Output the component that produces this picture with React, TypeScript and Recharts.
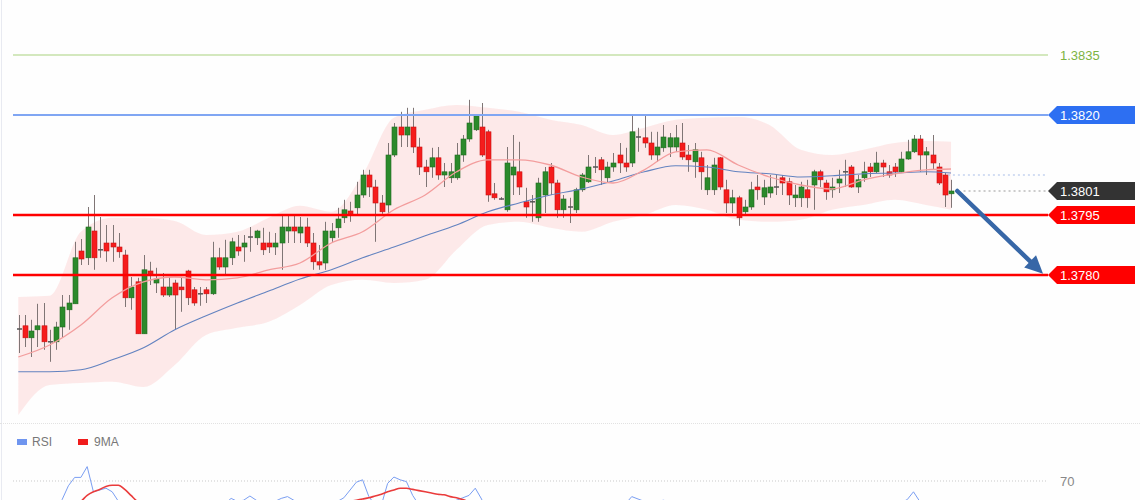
import React from "react";
import { ComposedChart, XAxis, YAxis, Bar, Area, Line, ReferenceLine, Legend } from "recharts";

// candles (price)
const open = [
  1.37663, 1.37673, 1.37643, 1.37663, 1.37673, 1.37633, 1.37633, 1.3767, 1.37713, 1.37728,
  1.3786, 1.37843, 1.3791, 1.3786, 1.3788, 1.3788, 1.3787, 1.3785, 1.37743, 1.37783,
  1.37653, 1.3781, 1.3778, 1.3777, 1.3775, 1.3778, 1.3777, 1.3781, 1.37763, 1.3775,
  1.37763, 1.37753, 1.37843, 1.3782, 1.37843, 1.3787, 1.3787, 1.37893, 1.37893, 1.3788,
  1.3788, 1.3787, 1.3788, 1.3791, 1.3792, 1.37905, 1.3792, 1.3788, 1.37833, 1.3783,
  1.37893, 1.37918, 1.37943, 1.3796, 1.37968, 1.38, 1.3805, 1.3802, 1.3798, 1.37975,
  1.381, 1.3817, 1.3815, 1.3817, 1.3812, 1.3807, 1.3807, 1.38093, 1.3805, 1.38043,
  1.38043, 1.381, 1.3814, 1.38163, 1.3817, 1.38158, 1.38003, 1.3799, 1.37963, 1.3805,
  1.38058, 1.37983, 1.37983, 1.37943, 1.38, 1.3807, 1.3803, 1.37963, 1.3797, 1.37963,
  1.38013, 1.38033, 1.3807, 1.38088, 1.38043, 1.3807, 1.381, 1.3808, 1.3808, 1.38145,
  1.38143, 1.3813, 1.381, 1.38118, 1.3812, 1.3812, 1.3813, 1.381, 1.38083, 1.38093,
  1.38013, 1.38013, 1.38093, 1.38013, 1.3798, 1.37993, 1.37958, 1.3797, 1.3802, 1.37995,
  1.38005, 1.3802, 1.38043, 1.38033, 1.37993, 1.37993, 1.38013, 1.38025, 1.38058, 1.3803,
  1.38013, 1.3803, 1.38058, 1.3807, 1.3802, 1.38043, 1.3807, 1.38058, 1.3808, 1.38058,
  1.3807, 1.38058, 1.3809, 1.38108, 1.3814, 1.381, 1.381, 1.3807, 1.3805, 1.38003,
];
const high = [
  1.377, 1.377, 1.37688, 1.37728, 1.3773, 1.37663, 1.37683, 1.3775, 1.3775, 1.37883,
  1.3789, 1.3797, 1.38, 1.37945, 1.37925, 1.37925, 1.37905, 1.37863, 1.37795, 1.37793,
  1.3785, 1.37833, 1.37818, 1.37805, 1.37795, 1.37788, 1.37793, 1.37813, 1.3777, 1.3777,
  1.3777, 1.37883, 1.37868, 1.37888, 1.37893, 1.379, 1.379, 1.3792, 1.37913, 1.37918,
  1.37908, 1.37905, 1.37948, 1.3795, 1.3795, 1.37945, 1.37943, 1.37905, 1.37875, 1.37933,
  1.3793, 1.37968, 1.37988, 1.37983, 1.38033, 1.38063, 1.38063, 1.38038, 1.38, 1.3813,
  1.3818, 1.38208, 1.38218, 1.38218, 1.38143, 1.38088, 1.38118, 1.3812, 1.3808, 1.3808,
  1.3813, 1.3815, 1.38238, 1.382, 1.3823, 1.38163, 1.3803, 1.37995, 1.3812, 1.3815,
  1.38133, 1.38018, 1.38, 1.38043, 1.3807, 1.3808, 1.38038, 1.38, 1.37993, 1.38018,
  1.38055, 1.381, 1.38095, 1.38095, 1.38083, 1.38105, 1.3813, 1.38118, 1.382, 1.38168,
  1.382, 1.38158, 1.38158, 1.38175, 1.38155, 1.38175, 1.3818, 1.38125, 1.3813, 1.38108,
  1.38075, 1.38093, 1.38095, 1.38038, 1.38013, 1.37998, 1.37988, 1.38033, 1.3805, 1.38038,
  1.3805, 1.3805, 1.3805, 1.38043, 1.38025, 1.38033, 1.38038, 1.38063, 1.38063, 1.38038,
  1.38043, 1.38063, 1.38088, 1.38075, 1.3805, 1.38083, 1.3808, 1.38108, 1.38088, 1.38075,
  1.3808, 1.38108, 1.38138, 1.3815, 1.3815, 1.3812, 1.3815, 1.3808, 1.38055, 1.38038,
];
const low = [
  1.37605, 1.3762, 1.37595, 1.3762, 1.37613, 1.37583, 1.37613, 1.37645, 1.37663, 1.37728,
  1.37825, 1.37825, 1.37813, 1.37843, 1.37833, 1.37833, 1.37843, 1.3772, 1.37713, 1.37653,
  1.37653, 1.37775, 1.37755, 1.37745, 1.37745, 1.37663, 1.37708, 1.37725, 1.37723, 1.37723,
  1.3773, 1.3775, 1.37813, 1.378, 1.37825, 1.37848, 1.37833, 1.37858, 1.37875, 1.3785,
  1.37855, 1.3785, 1.37813, 1.3788, 1.3788, 1.3788, 1.3787, 1.37813, 1.37813, 1.37813,
  1.37883, 1.37893, 1.3793, 1.37933, 1.3795, 1.37993, 1.37995, 1.37883, 1.37953, 1.37955,
  1.38095, 1.3812, 1.3812, 1.38105, 1.3805, 1.3802, 1.38043, 1.38038, 1.3802, 1.3803,
  1.38038, 1.38083, 1.38133, 1.3816, 1.38095, 1.37983, 1.37988, 1.37988, 1.37958, 1.38,
  1.38, 1.37943, 1.37933, 1.37933, 1.37955, 1.38, 1.37943, 1.37943, 1.3793, 1.37955,
  1.38008, 1.3803, 1.38055, 1.38025, 1.3803, 1.38058, 1.38055, 1.38058, 1.3807, 1.38108,
  1.38118, 1.38088, 1.38083, 1.38108, 1.38095, 1.38108, 1.38088, 1.38058, 1.38043, 1.38013,
  1.38, 1.38, 1.38013, 1.37955, 1.37955, 1.37923, 1.3795, 1.37963, 1.37988, 1.37975,
  1.37993, 1.38, 1.38, 1.37975, 1.3797, 1.3797, 1.37968, 1.37963, 1.3802, 1.37988,
  1.37993, 1.38005, 1.3802, 1.38018, 1.38005, 1.38033, 1.38045, 1.38055, 1.38045, 1.38043,
  1.38045, 1.38055, 1.38088, 1.38105, 1.38058, 1.3805, 1.38063, 1.38025, 1.3797, 1.37968,
];
const close = [
  1.37665, 1.37643, 1.3766, 1.37673, 1.37633, 1.37633, 1.3767, 1.3772, 1.3773, 1.37843,
  1.3784, 1.3792, 1.37843, 1.37863, 1.3786, 1.3787, 1.37858, 1.37743, 1.3777, 1.37653,
  1.37813, 1.37803, 1.3779, 1.3775, 1.3777, 1.3775, 1.37763, 1.37743, 1.3773, 1.37753,
  1.37753, 1.37843, 1.3782, 1.37843, 1.37883, 1.3786, 1.3788, 1.37895, 1.3791, 1.37863,
  1.3787, 1.3788, 1.3792, 1.3792, 1.3791, 1.3792, 1.3788, 1.37833, 1.37825, 1.3791,
  1.3791, 1.3794, 1.37963, 1.37953, 1.38, 1.3805, 1.3802, 1.3798, 1.37958, 1.381,
  1.3817, 1.3815, 1.3817, 1.3812, 1.3807, 1.38058, 1.38093, 1.3805, 1.38058, 1.38058,
  1.381, 1.3814, 1.3818, 1.38198, 1.381, 1.38, 1.37993, 1.3799, 1.3808, 1.3807,
  1.3802, 1.3797, 1.37983, 1.3803, 1.38058, 1.3803, 1.37963, 1.3799, 1.3797, 1.38013,
  1.3805, 1.3807, 1.3807, 1.38063, 1.3807, 1.3808, 1.3808, 1.3807, 1.38158, 1.38143,
  1.3813, 1.381, 1.3812, 1.38145, 1.38143, 1.38143, 1.38095, 1.38088, 1.38113, 1.38058,
  1.38043, 1.38075, 1.3802, 1.3798, 1.37993, 1.37943, 1.3797, 1.38013, 1.38013, 1.38018,
  1.3802, 1.3802, 1.3803, 1.38, 1.38, 1.3802, 1.37993, 1.38058, 1.38038, 1.38008,
  1.3802, 1.3804, 1.38058, 1.3802, 1.38038, 1.38058, 1.38058, 1.3808, 1.3807, 1.3805,
  1.38058, 1.3809, 1.38108, 1.3814, 1.381, 1.38108, 1.3808, 1.3803, 1.38, 1.3801,
];

// bollinger band and moving averages, read at every 5th candle
const bandIndex = [0, 5, 10, 15, 20, 25, 30, 35, 40, 45, 50, 55, 60, 65, 70, 75, 80, 85, 90, 95, 100, 105, 110, 115, 120, 125, 130, 135, 140, 145, 149];
const bandUpper = [
  1.37745, 1.37748, 1.37908, 1.37943, 1.37943, 1.37935, 1.379, 1.37908, 1.37943, 1.37973, 1.37958,
  1.3805, 1.38193, 1.38213, 1.38225, 1.38218, 1.38208, 1.38188, 1.38175, 1.3815, 1.38168,
  1.38188, 1.38193, 1.38195, 1.38175, 1.38113, 1.381, 1.38113, 1.3813, 1.38135, 1.38133,
];
const bandLower = [
  1.3745, 1.37525, 1.3753, 1.37533, 1.3752, 1.37575, 1.3765, 1.37668, 1.37683, 1.37725, 1.37775,
  1.37788, 1.3778, 1.37788, 1.37863, 1.37925, 1.37933, 1.37918, 1.37908, 1.37933, 1.3795,
  1.37975, 1.37963, 1.37938, 1.37933, 1.37938, 1.37963, 1.37975, 1.37988, 1.37975, 1.37963,
];
const ma20 = [
  1.37595, 1.37625, 1.37675, 1.37743, 1.37783, 1.37795, 1.37788, 1.37793, 1.37813, 1.3783, 1.3788,
  1.37908, 1.37963, 1.38, 1.38058, 1.38088, 1.38088, 1.38075, 1.38045, 1.3803, 1.38063,
  1.38108, 1.38113, 1.38075, 1.38045, 1.38025, 1.38015, 1.38038, 1.38053, 1.38063, 1.38065,
];
const ma50 = [
  1.37558, 1.37558, 1.37563, 1.37588, 1.37618, 1.37663, 1.37698, 1.3773, 1.3776, 1.3779, 1.37813,
  1.37843, 1.3787, 1.37898, 1.37925, 1.37958, 1.3798, 1.38, 1.38015, 1.38035, 1.38058,
  1.38073, 1.3807, 1.38058, 1.38053, 1.38045, 1.38048, 1.38053, 1.38055, 1.38058, 1.38055,
];

// lower panel
const rsi = [
  48, 42, 45, 47, 41, 38, 46, 54.5, 66, 73, 73, 82, 61, 62.5, 64, 61, 53, 40, 45, 35,
  50, 49, 47, 44, 47, 43, 42, 38, 37, 38, 38, 50, 48, 51, 55.5, 53, 54, 57.5, 54, 51,
  50, 53, 55.5, 57, 54, 52, 48, 43, 42, 50, 52, 53, 56, 62.5, 69, 71, 57, 50, 50, 68,
  73.3, 71, 69.5, 58, 50, 48, 52, 47, 48, 49, 54, 56, 58, 64, 55, 42, 41, 41, 52, 53,
  48, 42, 42, 49, 52, 48, 42, 45, 44, 48, 51, 53, 53, 51, 52, 53, 52, 51, 57, 55,
  53, 50, 52, 54, 53, 53, 48, 47, 50, 45, 46, 50, 44, 40, 41, 38, 40, 45, 45, 46,
  46, 46, 47, 44, 44, 46, 44, 49, 47, 44, 45, 47, 49, 45, 47, 49, 49, 51, 50, 48,
  49, 52, 54.5, 61, 53, 53, 51, 45, 40, 41,
];
const rsiMa = [
  45, 45, 44, 44, 44, 43, 44, 46, 48, 50, 53, 58, 61, 63, 65.5, 66.5, 66.5, 63, 58, 53,
  50, 48, 47, 46, 45, 44, 43, 42, 42, 42, 42, 43, 44, 45, 47, 49, 50, 52, 53, 53,
  53, 53, 53, 53.5, 53.5, 53, 52.5, 52, 51, 51, 51, 51, 52, 53, 54, 55, 56, 57.5, 59, 61,
  62.5, 64, 64, 63, 62, 61, 60, 59, 58.5, 57, 56, 54.5, 53, 53, 52, 52, 51, 50, 49, 48,
  48, 47, 47, 46, 46, 46, 46, 46, 46, 47, 47, 48, 48, 49, 50, 51, 51, 52, 52, 53,
  53, 53, 53, 53, 53, 52, 52, 51, 50, 49, 48, 47, 46, 45, 44, 43, 43, 43, 43, 43,
  44, 44, 45, 45, 45, 45, 45, 45, 45, 46, 46, 46, 46, 46, 46, 47, 47, 48, 48, 48,
  49, 49, 50, 51, 51, 51, 51, 50, 49, 48,
];

const target = 1.3835;
const resistance = 1.382;
const lastPrice = 1.3801;
const support = [1.3795, 1.378];
const maLast = 1.3805;
const rsiLevel = 70;

const data = open.map((o, i) => {
  const k = bandIndex.indexOf(i);
  return {
    i,
    open: o,
    high: high[i],
    low: low[i],
    close: close[i],
    range: [low[i], high[i]],
    band: k >= 0 ? [bandLower[k], bandUpper[k]] : [null, null],
    ma20: k >= 0 ? ma20[k] : null,
    ma50: k >= 0 ? ma50[k] : null,
    rsi: rsi[i],
    rsiMa: rsiMa[i],
  };
});

const FONT = "'Liberation Sans', Arial, sans-serif";

const Candle = (props: any) => {
  const { x, y, width, height, payload } = props;
  if (!payload) return null;
  const { open: o, close: c, high: h, low: l } = payload;
  const k = h > l ? height / (h - l) : 0;
  const cx = Math.round(x + width / 2) + 0.5;
  const yo = y + (h - o) * k;
  const yc = y + (h - c) * k;
  const top = Math.min(yo, yc);
  const bh = Math.abs(yo - yc);
  const flat = bh < 1.5;
  const up = c > o;
  return (
    <g>
      <line x1={cx} x2={cx} y1={y} y2={y + height} stroke="#7f7575" strokeWidth={1} />
      {flat ? (
        <line x1={cx - 2.5} x2={cx + 2.5} y1={top} y2={top} stroke="#555" strokeWidth={1.5} />
      ) : (
        <rect x={cx - 2.5} y={top} width={5} height={bh} fill={up ? "#2b8a2b" : "#f51c1c"} stroke={up ? "#1e6a1e" : "#c81212"} strokeWidth={0.6} />
      )}
    </g>
  );
};

const PriceTag = (props: any) => {
  const { viewBox, tag, bg } = props;
  if (!viewBox) return null;
  const x = viewBox.x + viewBox.width;
  const y = viewBox.y;
  return (
    <g>
      <polygon points={`${x},${y} ${x + 9},${y - 9} ${x + 87},${y - 9} ${x + 87},${y + 9} ${x + 9},${y + 9}`} fill={bg} />
      <text x={x + 12} y={y + 4.5} fill="#fff" fontSize={13} fontFamily={FONT}>{tag}</text>
    </g>
  );
};

const SideText = (props: any) => {
  const { viewBox, tag, color } = props;
  if (!viewBox) return null;
  return (
    <text x={viewBox.x + viewBox.width + 12} y={viewBox.y + 4.5} fill={color} fontSize={13} fontFamily={FONT}>{tag}</text>
  );
};

const Arrow = (p: any) => {
  const { x1, y1, x2, y2 } = p;
  const dx = x2 - x1;
  const dy = y2 - y1;
  const len = Math.hypot(dx, dy) || 1;
  const ux = dx / len;
  const uy = dy / len;
  const hl = 18;
  const hw = 8.5;
  const bx = x2 - ux * hl;
  const by = y2 - uy * hl;
  return (
    <g>
      <line x1={x1} y1={y1} x2={bx + ux * 2} y2={by + uy * 2} stroke="#3767a7" strokeWidth={4.5} strokeLinecap="round" />
      <polygon points={`${x2},${y2} ${bx - uy * hw},${by + ux * hw} ${bx + uy * hw},${by - ux * hw}`} fill="#3767a7" />
    </g>
  );
};

const LegendBox = () => (
  <div style={{ display: "flex", alignItems: "center", fontSize: 12, color: "#777", fontFamily: FONT, whiteSpace: "nowrap" }}>
    <span style={{ display: "inline-block", width: 10, height: 6, background: "#6f95ef", marginRight: 5 }} />
    <span style={{ marginRight: 26 }}>RSI</span>
    <span style={{ display: "inline-block", width: 10, height: 6, background: "#f01c1c", marginRight: 6 }} />
    <span>9MA</span>
  </div>
);

export default function App() {
  return (
    <div style={{ position: "absolute", left: 0, top: 0, width: 1140, height: 500, overflow: "hidden", background: "#fefefe", fontFamily: FONT }}>
      <div style={{ position: "absolute", left: 1, top: 0, width: 1, height: 500, background: "#e8eaf1" }} />
      <div style={{ position: "absolute", left: 0, top: 423, width: 1140, borderTop: "1px dotted #e2e2e2" }} />
      <ComposedChart width={1140} height={500} data={data} margin={{ top: 0, right: 92, bottom: 0, left: 13 }}>
        <XAxis type="number" dataKey="i" domain={[-0.847, 164.49]} allowDataOverflow hide />
        <YAxis yAxisId="price" type="number" domain={[1.372375, 1.384875]} allowDataOverflow hide />
        <YAxis yAxisId="rsi" type="number" domain={[54.1667, 470.8333]} allowDataOverflow hide />
        <Legend content={<LegendBox />} layout="horizontal" verticalAlign="middle" align="center" wrapperStyle={{ top: 435, left: 17, width: "auto", height: "auto" }} />

        <Area yAxisId="price" dataKey="band" type="monotone" connectNulls fill="#fde4e4" fillOpacity={0.8} stroke="none" isAnimationActive={false} legendType="none" />
        <Line yAxisId="price" dataKey="ma50" type="monotone" connectNulls stroke="#6383c0" strokeWidth={1.1} dot={false} isAnimationActive={false} legendType="none" />
        <Line yAxisId="price" dataKey="ma20" type="monotone" connectNulls stroke="#f39d9d" strokeWidth={1.3} dot={false} isAnimationActive={false} legendType="none" />
        <Bar yAxisId="price" dataKey="range" barSize={5} shape={Candle} isAnimationActive={false} legendType="none" />

        <ReferenceLine yAxisId="price" y={target} stroke="#a9d27f" strokeWidth={1} label={<SideText tag="1.3835" color="#7cb342" />} />
        <ReferenceLine yAxisId="price" y={resistance} stroke="#80a6f3" strokeWidth={2} label={<PriceTag tag="1.3820" bg="#2d6ff2" />} />
        <ReferenceLine yAxisId="price" ifOverflow="visible" segment={[{ x: 148.5, y: maLast }, { x: 164.4, y: maLast }]} stroke="#a8bde8" strokeWidth={1} strokeDasharray="2 3" />
        <ReferenceLine yAxisId="price" ifOverflow="visible" segment={[{ x: 151, y: lastPrice }, { x: 164.4, y: lastPrice }]} stroke="#9a9a9a" strokeWidth={1} strokeDasharray="2 3" />
        <ReferenceLine yAxisId="price" y={lastPrice} stroke="none" label={<PriceTag tag="1.3801" bg="#333333" />} />
        <ReferenceLine yAxisId="price" y={support[0]} stroke="#ff0000" strokeWidth={2.5} label={<PriceTag tag="1.3795" bg="#ff0000" />} />
        <ReferenceLine yAxisId="price" y={support[1]} stroke="#ff0000" strokeWidth={2.5} label={<PriceTag tag="1.3780" bg="#ff0000" />} />
        <ReferenceLine yAxisId="price" ifOverflow="visible" segment={[{ x: 150, y: 1.3801 }, { x: 163.7, y: 1.37803 }]} shape={(p: any) => <Arrow {...p} />} />

        <ReferenceLine yAxisId="rsi" y={rsiLevel} stroke="#c9c9c9" strokeDasharray="1 2" label={<SideText tag="70" color="#888" />} />
        <Line yAxisId="rsi" dataKey="rsi" name="RSI" type="linear" stroke="#7a9ef2" strokeWidth={1} dot={false} isAnimationActive={false} />
        <Line yAxisId="rsi" dataKey="rsiMa" name="9MA" type="monotone" stroke="#ea3b3b" strokeWidth={1.6} dot={false} isAnimationActive={false} />
      </ComposedChart>
    </div>
  );
}
